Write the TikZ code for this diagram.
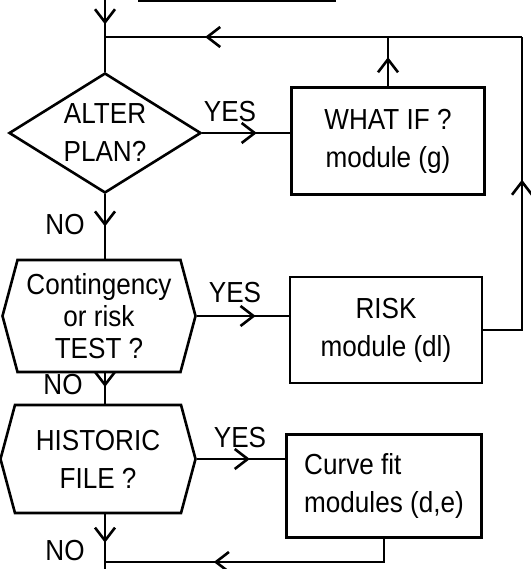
\documentclass[tikz,border=0pt]{standalone}
\usepackage{fontspec}
\setmainfont[FakeStretch=0.9]{Liberation Sans}
\usetikzlibrary{arrows.meta}
\usetikzlibrary{shapes.geometric,shapes.symbols,decorations.markings}

\begin{document}
\begin{tikzpicture} [x=1pt,y=-1pt,line width=2.6pt,
  font=\fontsize{29}{38}\selectfont,
  question/.style={diamond,draw,aspect=1.6,inner sep=0pt,align=center},
  prep/.style={signal,signal to=east and west,signal pointer angle=150,
    draw,inner sep=0pt,align=center},
  module/.style={rectangle,draw,inner sep=0pt,align=center},
  flow/.style={postaction={decorate},decoration={markings,
      mark=at position #1 with {\arrow{Straight Barb[length=13pt,width=20pt]}}}}]
  \useasboundingbox (0,0) rectangle (530,569);

  % box above, only its bottom edge shows
  \node[module,minimum width=195pt,minimum height=90pt] (m0) at (237,-44) {};

  \node[question,minimum width=192pt,minimum height=120pt] (q1) at (105,133) {ALTER\\PLAN?};
  \node[prep,minimum width=193pt,minimum height=112pt,
    font=\fontsize{29}{32}\selectfont] (q2) at (99,316) {Contingency\\or risk\\TEST ?};
  \node[prep,minimum width=195pt,minimum height=108pt] (q3) at (98,459) {HISTORIC\\FILE ?};

  \node[module,minimum width=193pt,minimum height=107pt] (m1) at (388,141) {WHAT IF ?\\module (g)};
  \node[module,minimum width=192pt,minimum height=106pt] (m2) at (386,330) {RISK\\module (dl)};
  \node[module,minimum width=195pt,minimum height=103pt,align=left] (m3) at (384,486) {Curve fit\\modules (d,e)};

  \coordinate (top) at (105,0);
  \coordinate (j1) at (105,37);
  \coordinate (c1) at (522,37);
  \coordinate (j2) at (105,562);
  \coordinate (bot) at (105,569);

  % main line down the left
  \draw[flow=0.34] (top) -- (q1.north);
  \draw[flow=0.5] (q1.south) -- (q1.south |- q2.north);
  \draw[flow=0.45] (q1.south |- q2.south) -- (q1.south |- q3.north);
  \draw[flow=0.52] (q1.south |- q3.south) -- (bot);

  % yes branches
  \draw[flow=0.62] (q1.east) -- (q1.east -| m1.west);
  \draw[flow=0.64] (q2.east) -- (q2.east -| m2.west);
  \draw[flow=0.6] (q3.east) -- (q3.east -| m3.west);

  % returns
  \draw[flow=0.59] (m1.north) -- (m1.north |- j1);
  \draw[flow=0.57] (m2.east) -| (c1);
  \draw[flow=0.76] (c1) -- (j1);
  \draw[flow=0.64] (m3.south) |- (j2);

  \node (yes1) at (230,112) {YES};
  \node (yes2) at (235,293) {YES};
  \node (yes3) at (240,438) {YES};
  \node (no1) at (65,225) {NO};
  \node (no2) at (63,385) {NO};
  \node (no3) at (65,551) {NO};
\end{tikzpicture}
\end{document}
